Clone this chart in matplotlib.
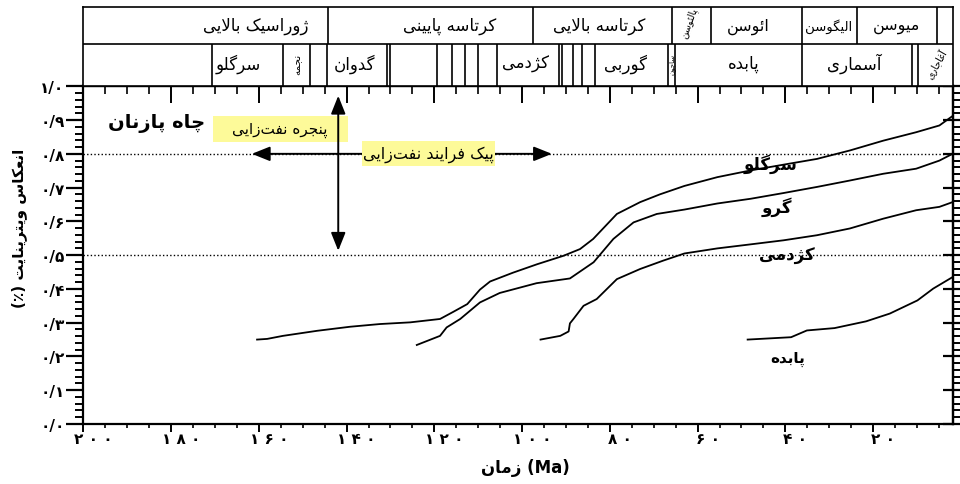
import matplotlib
matplotlib.use("Agg")
import matplotlib.pyplot as plt
import matplotlib.transforms as mtransforms
from matplotlib.ticker import MultipleLocator
from matplotlib.patches import Rectangle

plt.rcParams['font.family'] = ['DejaVu Sans']

# ---------------------------------------------------------------------------
# Vitrinite reflectance (%) versus age (Ma), Pazanan well
# ---------------------------------------------------------------------------
sargelu_age = [160.4, 158.1, 154.5, 146.7, 139.2, 132.4, 125.5, 118.7, 115.7, 112.5,
               109.6, 107.3, 102.1, 96.6, 90.6, 86.8, 83.8, 78.4, 73.1, 68.6,
               63.0, 55.5, 47.9, 40.4, 32.8, 25.3, 17.7, 10.2, 4.9, 1.9]
sargelu_ro = [0.250, 0.252, 0.261, 0.276, 0.288, 0.296, 0.301, 0.311, 0.332, 0.355,
              0.398, 0.422, 0.448, 0.473, 0.498, 0.518, 0.548, 0.622, 0.657, 0.680,
              0.705, 0.731, 0.751, 0.768, 0.785, 0.810, 0.839, 0.864, 0.884, 0.912]

garau_age = [124.0, 118.7, 117.2, 114.1, 109.6, 105.1, 96.7, 89.1, 83.7, 79.2,
             74.6, 69.3, 63.0, 55.5, 47.9, 40.4, 32.8, 25.3, 17.7, 10.2, 4.9, 1.9]
garau_ro = [0.234, 0.261, 0.286, 0.311, 0.360, 0.388, 0.417, 0.431, 0.479, 0.548,
            0.597, 0.622, 0.635, 0.653, 0.667, 0.684, 0.702, 0.721, 0.741, 0.756,
            0.780, 0.800]

kazhdumi_age = [95.8, 91.3, 89.4, 89.1, 88.3, 86.0, 83.0, 78.4, 73.1, 67.8,
                63.0, 55.5, 47.9, 40.4, 32.8, 25.3, 17.7, 10.2, 4.9, 1.9]
kazhdumi_ro = [0.250, 0.261, 0.274, 0.298, 0.311, 0.350, 0.370, 0.429, 0.459, 0.484,
               0.505, 0.520, 0.532, 0.544, 0.559, 0.579, 0.608, 0.633, 0.643, 0.657]

pabdeh_age = [48.6, 38.7, 35.1, 28.8, 21.6, 16.2, 9.9, 6.3, 1.9]
pabdeh_ro = [0.250, 0.257, 0.277, 0.284, 0.304, 0.327, 0.366, 0.401, 0.435]

# Oil window limits and peak generation level
window_ro = [0.5, 0.8]

# Geological column: epoch row and formation row (boundaries in Ma)
epoch_bounds = [144.2, 97.5, 65.8, 56.9, 36.2, 23.6, 5.4]
epoch_names = ['ژوراسیک بالایی', 'کرتاسه پایینی', 'کرتاسه بالایی', 'ائوسن', 'الیگوسن', 'میوسن']
epoch_pos = [160.7, 116.6, 82.4, 48.4, 30.2, 14.6]
paleocene_name = 'پالئوسن'
paleocene_pos = 62.0

formation_bounds = [170.7, 154.4, 148.3, 144.5, 130.8, 130.1, 119.4, 116.0, 113.0,
                    110.0, 105.8, 91.7, 90.9, 88.3, 86.4, 83.3, 66.7, 65.1, 36.2,
                    11.2, 9.7]
formation_names = ['سرگلو', 'گدوان', 'کژدمی', 'گوربی', 'پابده', 'آسماری']
formation_pos = [164.6, 138.1, 99.3, 76.5, 49.5, 24.4]
small_formations = ['نجمه', 'ساچون', 'آغاجاری']
small_formation_pos = [151.3, 65.9, 5.6]

x_ticks = [200, 180, 160, 140, 120, 100, 80, 60, 40, 20]
y_ticks = [0.0, 0.1, 0.2, 0.3, 0.4, 0.5, 0.6, 0.7, 0.8, 0.9, 1.0]
AGE_MAX, AGE_MIN = 200, 1.8

# ---------------------------------------------------------------------------
# Minimal Persian shaping (presentation forms + right-to-left order)
# ---------------------------------------------------------------------------
FORMS = {
    '\u0622': ('\uFE81', '\uFE82', None, None),
    '\u0626': ('\uFE89', '\uFE8A', '\uFE8B', '\uFE8C'),
    '\u0627': ('\uFE8D', '\uFE8E', None, None),
    '\u0628': ('\uFE8F', '\uFE90', '\uFE91', '\uFE92'),
    '\u067E': ('\uFB56', '\uFB57', '\uFB58', '\uFB59'),
    '\u062A': ('\uFE95', '\uFE96', '\uFE97', '\uFE98'),
    '\u062C': ('\uFE9D', '\uFE9E', '\uFE9F', '\uFEA0'),
    '\u0686': ('\uFB7A', '\uFB7B', '\uFB7C', '\uFB7D'),
    '\u062F': ('\uFEA9', '\uFEAA', None, None),
    '\u0631': ('\uFEAD', '\uFEAE', None, None),
    '\u0632': ('\uFEAF', '\uFEB0', None, None),
    '\u0698': ('\uFB8A', '\uFB8B', None, None),
    '\u0633': ('\uFEB1', '\uFEB2', '\uFEB3', '\uFEB4'),
    '\u0639': ('\uFEC9', '\uFECA', '\uFECB', '\uFECC'),
    '\u063A': ('\uFECD', '\uFECE', '\uFECF', '\uFED0'),
    '\u0641': ('\uFED1', '\uFED2', '\uFED3', '\uFED4'),
    '\u06A9': ('\uFB8E', '\uFB8F', '\uFB90', '\uFB91'),
    '\u06AF': ('\uFB92', '\uFB93', '\uFB94', '\uFB95'),
    '\u0644': ('\uFEDD', '\uFEDE', '\uFEDF', '\uFEE0'),
    '\u0645': ('\uFEE1', '\uFEE2', '\uFEE3', '\uFEE4'),
    '\u0646': ('\uFEE5', '\uFEE6', '\uFEE7', '\uFEE8'),
    '\u0647': ('\uFEE9', '\uFEEA', '\uFEEB', '\uFEEC'),
    '\u0648': ('\uFEED', '\uFEEE', None, None),
    '\u06CC': ('\uFBFC', '\uFBFD', '\uFBFE', '\uFBFF'),
}
LAM_ALEF = {'\u0627': ('\uFEFB', '\uFEFC'), '\u0622': ('\uFEF5', '\uFEF6')}
MIRROR = {'(': ')', ')': '('}


def _dual(c):
    return c in FORMS and FORMS[c][2] is not None


def fa(text):
    chars = list(text)
    n = len(chars)
    out = []
    i = 0
    while i < n:
        c = chars[i]
        if c not in FORMS:
            if c != '\u200c':
                out.append(MIRROR.get(c, c))
            i += 1
            continue
        joins_prev = i > 0 and _dual(chars[i - 1])
        if c == '\u0644' and i + 1 < n and chars[i + 1] in LAM_ALEF:
            iso, fin = LAM_ALEF[chars[i + 1]]
            out.append(fin if joins_prev else iso)
            i += 2
            continue
        joins_next = _dual(c) and i + 1 < n and chars[i + 1] in FORMS
        iso, fin, ini, med = FORMS[c]
        if joins_prev and joins_next:
            out.append(med)
        elif joins_prev:
            out.append(fin)
        elif joins_next:
            out.append(ini)
        else:
            out.append(iso)
        i += 1
    return ''.join(reversed(out))


FA_DIGITS = str.maketrans('0123456789.', '۰۱۲۳۴۵۶۷۸۹/')


def fa_num(s):
    return s.translate(FA_DIGITS)


# ---------------------------------------------------------------------------
W, H = 960, 485
fig = plt.figure(figsize=(W / 100, H / 100), dpi=100)

x_left, x_right = 83.3, 953.0
y_top, y_bot = 87.3, 425.0
ax = fig.add_axes([x_left / W, 1 - y_bot / H, (x_right - x_left) / W, (y_bot - y_top) / H])
ax.set_xlim(AGE_MAX, AGE_MIN)
ax.set_ylim(0, 1.0)

for s in ax.spines.values():
    s.set_linewidth(1.6)

# curves
for age, ro in [(sargelu_age, sargelu_ro), (garau_age, garau_ro),
                (kazhdumi_age, kazhdumi_ro), (pabdeh_age, pabdeh_ro)]:
    ax.plot(age, ro, color='black', lw=1.3, zorder=3)

# oil window reference lines
for v in window_ro:
    ax.axhline(v, color='black', lw=1.0, ls=(0, (1, 1.6)), zorder=2)

# arrows
arrow_kw = dict(arrowstyle='<|-|>,head_length=0.55,head_width=0.22',
                color='black', lw=1.4, shrinkA=0, shrinkB=0, mutation_scale=20)
ax.annotate('', xy=(141.9, window_ro[0] + 0.013), xytext=(141.9, 0.972),
            arrowprops=arrow_kw, zorder=4)
ax.annotate('', xy=(161.6, window_ro[1]), xytext=(93.2, window_ro[1]),
            arrowprops=arrow_kw, zorder=4)

# highlighted labels
yellow = '#fdfa99'
ax.add_patch(Rectangle((170.4, 0.835), 139.7 - 170.4, 0.912 - 0.835,
                       facecolor=yellow, edgecolor='none', zorder=3))
ax.text(155.3, 0.871, fa('پنجره نفت\u200cزایی'), ha='center', va='center',
        fontsize=11, zorder=3.5)
ax.add_patch(Rectangle((136.5, 0.765), 106.2 - 136.5, 0.839 - 0.765,
                       facecolor=yellow, edgecolor='none', zorder=5))
ax.text(121.35, 0.800, fa('پیک فرایند نفت\u200cزایی'), ha='center', va='center',
        fontsize=11.5, zorder=6)

# well name and curve names
ax.text(183.2, 0.894, fa('چاه پازنان'), ha='center', va='center',
        fontsize=14, fontweight='bold', zorder=6)
ax.text(43.4, 0.773, fa('سرگلو'), ha='center', va='center', fontsize=12,
        fontweight='bold', zorder=6)
ax.text(41.9, 0.645, fa('گرو'), ha='center', va='center', fontsize=12,
        fontweight='bold', zorder=6)
ax.text(39.7, 0.500, fa('کژدمی'), ha='center', va='center', fontsize=12,
        fontweight='bold', zorder=6)
ax.text(39.4, 0.195, fa('پابده'), ha='center', va='center', fontsize=11,
        fontweight='bold', zorder=6)

# ticks: bottom/left outward, top inward, right across
ax.xaxis.set_major_locator(MultipleLocator(20))
ax.xaxis.set_minor_locator(MultipleLocator(5))
ax.yaxis.set_major_locator(MultipleLocator(0.1))
ax.yaxis.set_minor_locator(MultipleLocator(0.02))
ax.tick_params(axis='x', which='both', direction='out', bottom=True, top=False,
               labelbottom=False)
ax.tick_params(axis='x', which='major', length=6, width=1.4)
ax.tick_params(axis='x', which='minor', length=3, width=1.2)
ax.tick_params(axis='y', which='both', direction='out', left=True, right=False)
ax.tick_params(axis='y', which='major', length=12.5, width=1.6, pad=1)
ax.tick_params(axis='y', which='minor', length=6, width=1.4)

ax.set_yticks(y_ticks)
ax.set_yticklabels([fa_num(f'{v:.1f}') for v in y_ticks], fontsize=11, fontweight='bold')

top_ax = ax.secondary_xaxis('top')
top_ax.xaxis.set_major_locator(MultipleLocator(20))
top_ax.xaxis.set_minor_locator(MultipleLocator(5))
top_ax.tick_params(which='both', direction='in', labeltop=False)
top_ax.tick_params(which='major', length=12, width=1.4)
top_ax.tick_params(which='minor', length=6, width=1.2)
top_ax.spines['top'].set_linewidth(1.6)

right_ax = ax.secondary_yaxis('right')
right_ax.yaxis.set_major_locator(MultipleLocator(0.1))
right_ax.yaxis.set_minor_locator(MultipleLocator(0.02))
right_ax.tick_params(which='major', direction='inout', length=15, width=1.6, labelright=False)
right_ax.tick_params(which='minor', direction='out', length=6, width=1.4, labelright=False)
right_ax.spines['right'].set_linewidth(1.6)

# x tick labels, set a little to the right of each tick
shift = mtransforms.ScaledTranslation(10 / 100, -7 / 100, fig.dpi_scale_trans)
xlab_tr = mtransforms.blended_transform_factory(ax.transData, ax.transAxes) + shift
for v in x_ticks:
    ax.text(v, 0, ' '.join(fa_num(str(v))), transform=xlab_tr, ha='center', va='top',
            fontsize=11, fontweight='bold')

fig.text(525 / W, 1 - 468 / H, fa('زمان') + ' (Ma)', ha='center', va='center',
         fontsize=12, fontweight='bold')
fig.text(19 / W, 1 - 228 / H, fa('انعکاس ویترینایت (٪)'), rotation=90,
         ha='center', va='center', fontsize=11, fontweight='bold')

# ---------------------------------------------------------------------------
# Geological column above the plot
# ---------------------------------------------------------------------------
col_top = 8.0
row_split = 45.0
col = fig.add_axes([x_left / W, 1 - y_top / H, (x_right - x_left) / W, (y_top - col_top) / H])
col.set_xlim(AGE_MAX, AGE_MIN)
col.set_ylim(0, y_top - col_top)
split = y_top - row_split
col.set_xticks([])
col.set_yticks([])
for s in col.spines.values():
    s.set_linewidth(1.2)
col.axhline(split, color='black', lw=1.2)
col.vlines(epoch_bounds, split, y_top - col_top, color='black', lw=1.2)
col.vlines(formation_bounds, 0, split, color='black', lw=1.2)

row1_y = split + (y_top - col_top - split) * 0.5
row2_y = split * 0.55
epoch_sizes = [12, 12, 12, 11.5, 9.5, 11.5]
for name, pos, fs in zip(epoch_names, epoch_pos, epoch_sizes):
    col.text(pos, row1_y, fa(name), ha='center', va='center', fontsize=fs)
col.text(paleocene_pos, row1_y + 3, fa(paleocene_name), ha='center', va='center',
         fontsize=7, rotation=70)
for name, pos in zip(formation_names, formation_pos):
    col.text(pos, row2_y, fa(name), ha='center', va='center', fontsize=12)
for name, pos, rot, fs in zip(small_formations, small_formation_pos, [90, 90, 60], [7.5, 5, 7]):
    col.text(pos, row2_y, fa(name), ha='center', va='center', fontsize=fs, rotation=rot)

fig.savefig('out.png', dpi=100)
